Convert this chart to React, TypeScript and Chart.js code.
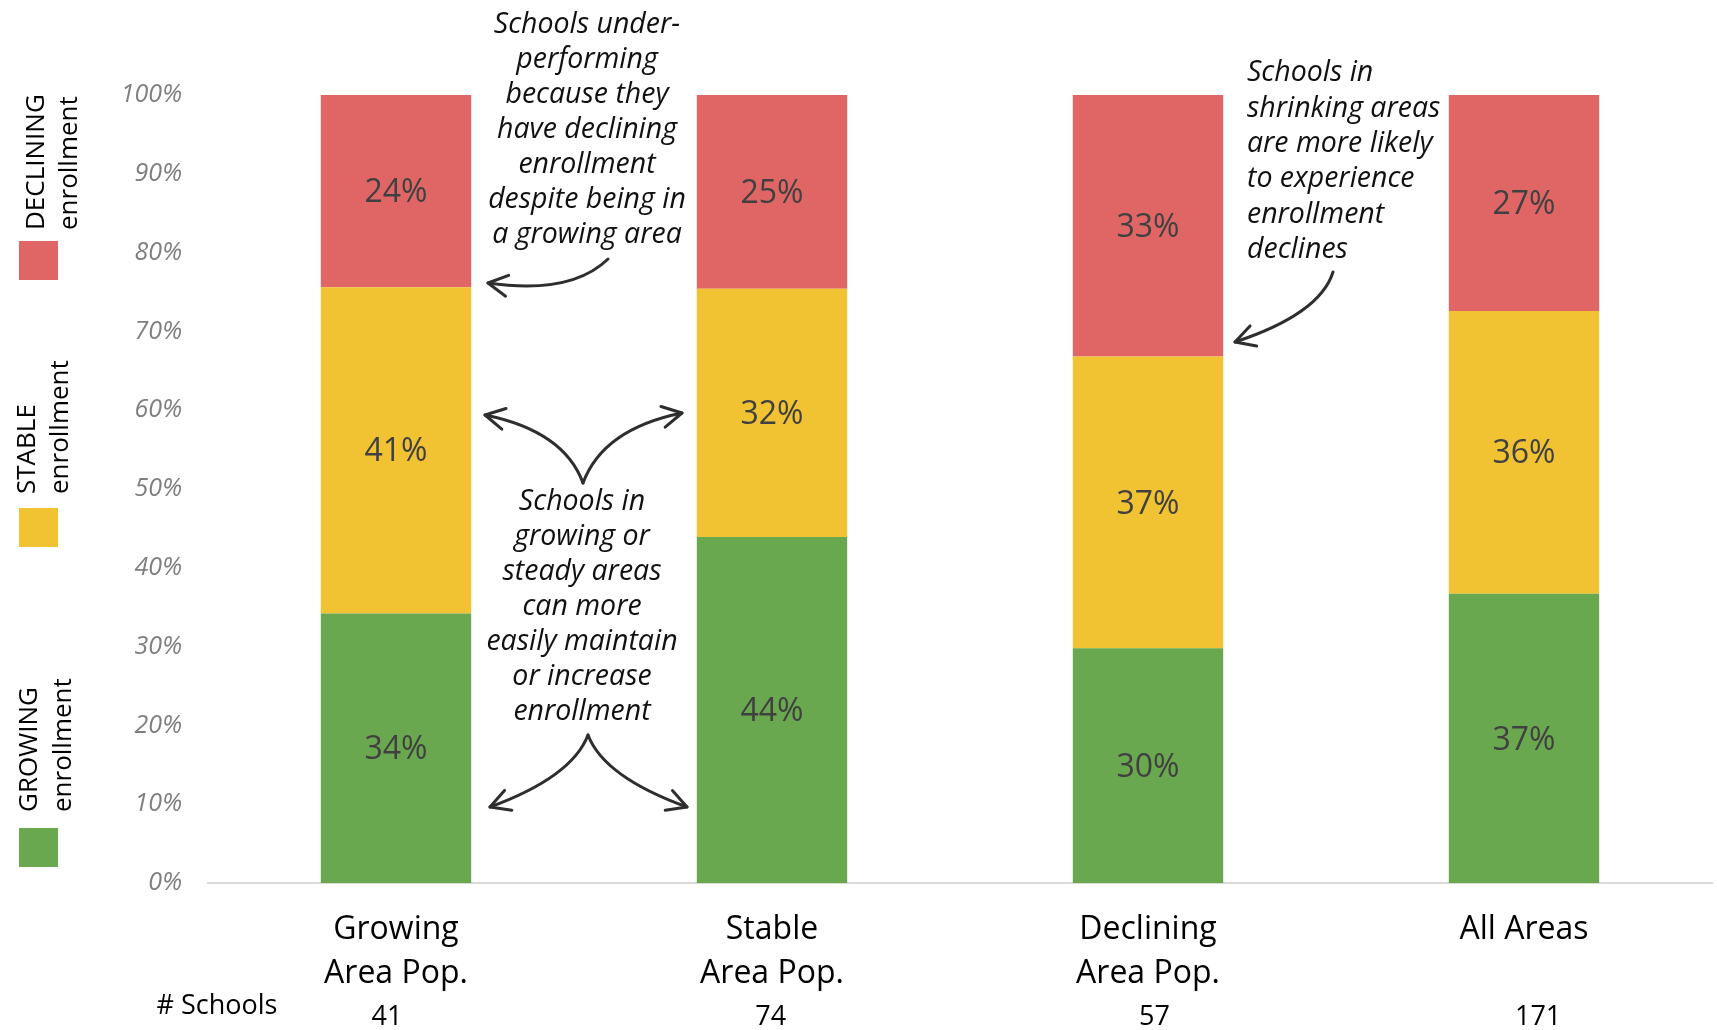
import React, { useEffect, useRef } from "react";
import { Chart, registerables } from "chart.js";

Chart.register(...registerables);

// ---- data ----
const categories: string[][] = [
  ["Growing", "Area Pop."],
  ["Stable", "Area Pop."],
  ["Declining", "Area Pop."],
  ["All Areas"],
];
const growingPct = [34.2, 43.9, 29.8, 36.7];
const stablePct = [41.4, 31.5, 37.0, 35.9];
const decliningPct = [24.4, 24.6, 33.2, 27.4];
const schoolCounts = [41, 74, 57, 171];
const seriesNames = ["GROWING", "STABLE", "DECLINING"];

const annotationTop = [
  "Schools under-",
  "performing",
  "because they",
  "have declining",
  "enrollment",
  "despite being in",
  "a growing area",
];
const annotationMid = [
  "Schools in",
  "growing or",
  "steady areas",
  "can more",
  "easily maintain",
  "or increase",
  "enrollment",
];
const annotationRight = [
  "Schools in",
  "shrinking areas",
  "are more likely",
  "to experience",
  "enrollment",
  "declines",
];

const GREEN = "#6AA84F";
const YELLOW = "#F1C232";
const RED = "#E06666";
const FONT = "'Open Sans', 'DejaVu Sans', sans-serif";

function drawArrow(
  ctx: CanvasRenderingContext2D,
  sx: number,
  sy: number,
  cx: number,
  cy: number,
  ex: number,
  ey: number
) {
  ctx.beginPath();
  ctx.moveTo(sx, sy);
  ctx.quadraticCurveTo(cx, cy, ex, ey);
  ctx.stroke();
  const ang = Math.atan2(ey - cy, ex - cx);
  const len = 22;
  const spread = 0.5;
  ctx.beginPath();
  ctx.moveTo(ex - len * Math.cos(ang - spread), ey - len * Math.sin(ang - spread));
  ctx.lineTo(ex, ey);
  ctx.lineTo(ex - len * Math.cos(ang + spread), ey - len * Math.sin(ang + spread));
  ctx.stroke();
}

const overlayPlugin = {
  id: "overlay",
  afterDatasetsDraw(chart: any) {
    const ctx: CanvasRenderingContext2D = chart.ctx;
    ctx.save();
    ctx.font = `32px ${FONT}`;
    ctx.fillStyle = "#404040";
    ctx.textAlign = "center";
    ctx.textBaseline = "middle";
    chart.data.datasets.forEach((ds: any, di: number) => {
      const meta = chart.getDatasetMeta(di);
      meta.data.forEach((el: any, i: number) => {
        const v = ds.data[i];
        ctx.fillText(Math.round(v) + "%", el.x, (el.y + el.base) / 2 + 2);
      });
    });
    ctx.restore();
  },
  afterDraw(chart: any) {
    const ctx: CanvasRenderingContext2D = chart.ctx;
    ctx.save();

    // legend (rotated)
    const legendItems = [
      { name: seriesNames[2], color: RED, sq: 241, bottom: 230, x1: 37, x2: 70 },
      { name: seriesNames[1], color: YELLOW, sq: 508, bottom: 494, x1: 28, x2: 61 },
      { name: seriesNames[0], color: GREEN, sq: 828, bottom: 812, x1: 30, x2: 64 },
    ];
    legendItems.forEach((it) => {
      ctx.fillStyle = it.color;
      ctx.fillRect(19, it.sq, 39, 39);
      ctx.fillStyle = "#000";
      ctx.font = `26px ${FONT}`;
      ctx.textAlign = "left";
      ctx.textBaseline = "middle";
      [
        [it.name, it.x1],
        ["enrollment", it.x2],
      ].forEach(([t, x]) => {
        ctx.save();
        ctx.translate(x as number, it.bottom);
        ctx.rotate(-Math.PI / 2);
        ctx.fillText(t as string, 0, 0);
        ctx.restore();
      });
    });

    // # Schools row
    ctx.fillStyle = "#000";
    ctx.font = `27px ${FONT}`;
    ctx.textAlign = "center";
    ctx.textBaseline = "middle";
    ctx.fillText("# Schools", 217, 1006);
    schoolCounts.forEach((n, i) => {
      ctx.fillText(String(n), 387 + i * 383.7, 1017);
    });

    // annotations text
    ctx.font = `italic 28.5px ${FONT}`;
    ctx.fillStyle = "#111";
    ctx.textBaseline = "middle";
    ctx.textAlign = "center";
    annotationTop.forEach((t, i) => ctx.fillText(t, 587, 25 + i * 35));
    annotationMid.forEach((t, i) => ctx.fillText(t, 582, 502 + i * 35));
    ctx.textAlign = "left";
    annotationRight.forEach((t, i) => ctx.fillText(t, 1247, 73 + i * 35.4));

    // arrows
    ctx.strokeStyle = "#2e2e2e";
    ctx.lineWidth = 3;
    ctx.lineCap = "round";
    ctx.lineJoin = "round";
    drawArrow(ctx, 608, 259, 571, 295, 488, 283);
    drawArrow(ctx, 583, 483, 564, 431, 485, 415);
    drawArrow(ctx, 583, 483, 603, 429, 682, 413);
    drawArrow(ctx, 588, 735, 572, 777, 490, 807);
    drawArrow(ctx, 588, 735, 604, 777, 687, 807);
    drawArrow(ctx, 1333, 272, 1320, 314, 1235, 342);

    ctx.restore();
  },
};

export default function App() {
  const ref = useRef<HTMLCanvasElement>(null);
  useEffect(() => {
    if (!ref.current) return;
    const chart = new Chart(ref.current, {
      type: "bar",
      data: {
        labels: categories,
        datasets: [
          { label: "GROWING enrollment", data: growingPct, backgroundColor: GREEN },
          { label: "STABLE enrollment", data: stablePct, backgroundColor: YELLOW },
          { label: "DECLINING enrollment", data: decliningPct, backgroundColor: RED },
        ],
      },
      options: {
        animation: false,
        responsive: true,
        maintainAspectRatio: false,
        layout: { padding: { top: 95, right: 5, left: 0, bottom: 0 } },
        datasets: { bar: { barPercentage: 0.4, categoryPercentage: 1 } },
        plugins: { legend: { display: false }, tooltip: { enabled: false } },
        scales: {
          x: {
            stacked: true,
            grid: { display: false, drawTicks: false },
            border: { display: true, color: "#d9d9d9", width: 2 },
            ticks: {
              color: "#000",
              padding: 25,
              font: { family: FONT, size: 32, lineHeight: 1.37 },
            },
            afterFit: (s: any) => {
              s.height = 147;
            },
          },
          y: {
            stacked: true,
            min: 0,
            max: 100,
            grid: { display: false, drawTicks: false },
            border: { display: false },
            ticks: {
              stepSize: 10,
              padding: 26,
              color: "#7f7f7f",
              font: { family: FONT, size: 25, style: "italic" },
              callback: (v: any) => v + "%",
            },
            afterFit: (s: any) => {
              s.width = 208;
            },
          },
        },
      },
      plugins: [overlayPlugin],
    });
    return () => chart.destroy();
  }, []);
  return (
    <div style={{ position: "fixed", left: 0, top: 0, width: 1717, height: 1030, background: "#fff" }}>
      <canvas ref={ref} />
    </div>
  );
}
